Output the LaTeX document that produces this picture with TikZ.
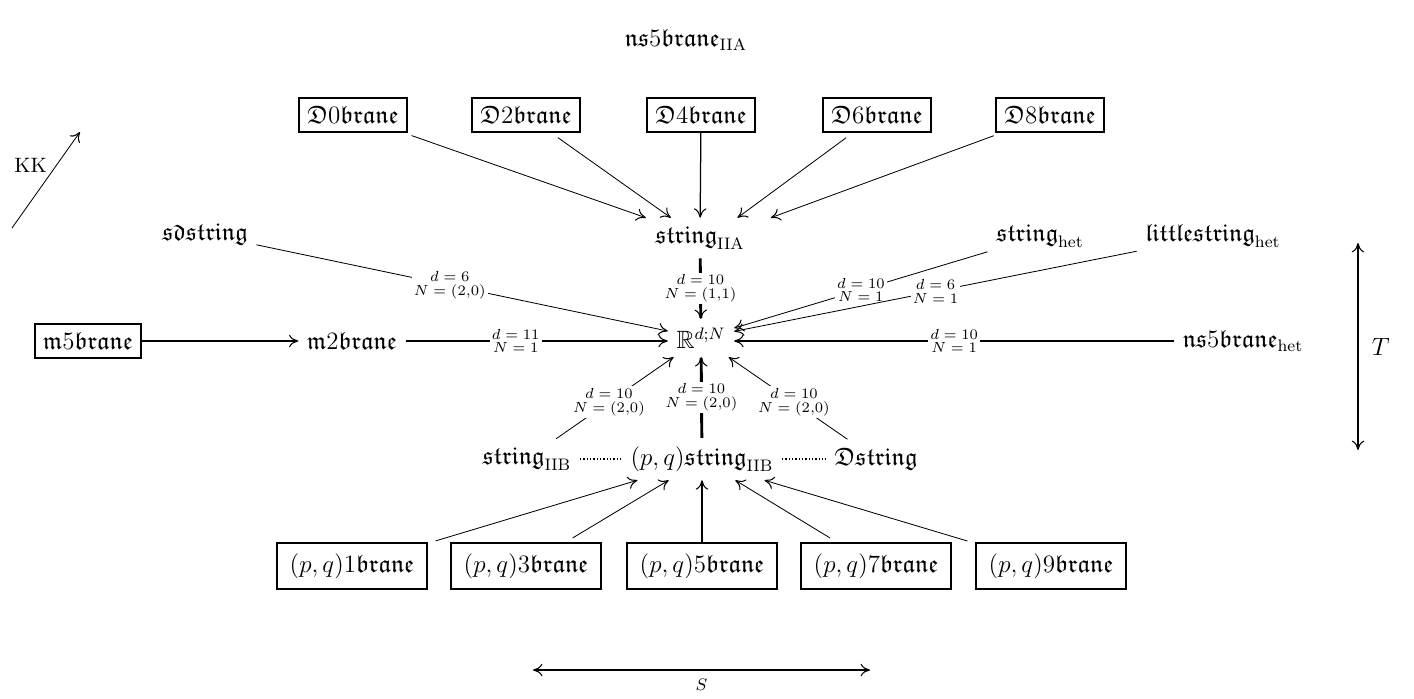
\documentclass[tikz,border=0pt,12pt]{standalone}
\usepackage{amsfonts}
\usepackage{amsmath}
\usepackage{amssymb}
\usepackage{xcolor}
\usepackage{tikz}
\usetikzlibrary{arrows.meta}

\begin{document}
\begin{tikzpicture}[x=0.48pt,y=-0.48pt,
	>={Computer Modern Rightarrow[length=4.5pt,width=6pt,line width'=0.5pt]},
	brane/.style={draw,thick,inner sep=4pt},
	pqbrane/.style={draw,thick,inner xsep=6pt,inner ysep=5pt},
	lab/.style={fill=white,inner sep=1pt,align=center,font=\fontsize{7}{6.6}\selectfont},
	heavy/.style={line width=1.4pt}]
			\useasboundingbox (0,0) rectangle (1414,698);
			\node (ns5IIA) at (686,40) {$\mathfrak{ns}5\mathfrak{brane}_{\mathrm{IIA}}$};
			\foreach \n/\x in {0/353,2/526,4/701,6/877,8/1050}{
				\node[brane] (D\n) at (\x,115) {$\mathfrak{D}\n\mathfrak{brane}$};
			}
			\node (sIIA) at (700,238) {$\mathfrak{string}_{\mathrm{IIA}}$};
			\node (sd) at (205,234) {$\mathfrak{sdstring}$};
			\node (shet) at (1040,236) {$\mathfrak{string}_{\mathrm{het}}$};
			\node (lshet) at (1213,236) {$\mathfrak{littlestring}_{\mathrm{het}}$};
			\node[brane] (m5) at (88,341) {$\mathfrak{m}5\mathfrak{brane}$};
			\node (m2) at (352,341) {$\mathfrak{m}2\mathfrak{brane}$};
			\node[inner sep=4pt] (R) at (701,338) {$\mathbb{R}^{d;N}$};
			\node (ns5het) at (1243,341) {$\mathfrak{ns}5\mathfrak{brane}_{\mathrm{het}}$};
			\node (sIIB) at (527,459) {$\mathfrak{string}_{\mathrm{IIB}}$};
			\node (pqs) at (702,459) {$(p,q)\mathfrak{string}_{\mathrm{IIB}}$};
			\node (Ds) at (876,459) {$\mathfrak{Dstring}$};
			\foreach \n/\x in {1/352,3/526,5/702,7/876,9/1051}{
				\node[pqbrane] (pq\n) at (\x,566) {$(p,q)\n\mathfrak{brane}$};
			}
			
			\foreach \n/\s in {0/-26pt,2/-14pt,6/18pt,8/34pt}{
				\draw[->,shorten <=4pt] (D\n) -- ([xshift=\s]sIIA.north);
			}
			\draw[->,semithick] (D4) -- (sIIA);
			\foreach \n/\s in {1/-31pt,3/-16pt,7/16pt,9/30pt}{
				\draw[->,shorten <=4pt] (pq\n) -- ([xshift=\s]pqs.south);
			}
			\draw[->,semithick] (pq5) -- (pqs);
			
			\draw[->] (sd) -- node[lab,pos=0.47] {$d=6$\\$N=(2{,}0)$} (R);
			\draw[->,heavy] (sIIA) -- node[lab] {$d=10$\\$N=(1{,}1)$} (R);
			\draw[->] (shet) -- node[lab] {$d=10$\\$N=1$} (R);
			\draw[->] (lshet) -- node[lab] {$d=6$\\$N=1$} (R);
			\draw[->,heavy] (m5) -- (m2);
			\draw[->,heavy] (m2) -- node[lab,pos=0.42] {$d=11$\\$N=1$} (R.west |- m2);
			\draw[->,heavy] (ns5het) -- node[lab] {$d=10$\\$N=1$} (R.east |- ns5het);
			\draw[->] (sIIB) -- node[lab,pos=0.45] {$d=10$\\$N=(2{,}0)$} (R);
			\draw[->,heavy] (pqs) -- node[lab] {$d=10$\\$N=(2{,}0)$} (R);
			\draw[->] (Ds) -- node[lab,pos=0.45] {$d=10$\\$N=(2{,}0)$} (R);
			\draw[densely dotted,semithick] (sIIB) -- (pqs);
			\draw[densely dotted,semithick] (pqs) -- (Ds);
			
			\coordinate (KKa) at (12,228);
			\coordinate (KKb) at (80,132);
			\draw[->] (KKa) -- node[above left,pos=0.55,inner sep=1pt,font=\footnotesize] {KK} (KKb);
			\coordinate (Tb) at (1358,450);
			\coordinate (Tt) at (1358,243);
			\draw[<->,heavy] (Tb) -- node[right,xshift=2pt] {$T$} (Tt);
			\coordinate (Sl) at (533,670);
			\coordinate (Sr) at (870,670);
			\draw[<->,thick] (Sl) -- node[below,font=\scriptsize] {$S$} (Sr);
		\end{tikzpicture}
\end{document}
